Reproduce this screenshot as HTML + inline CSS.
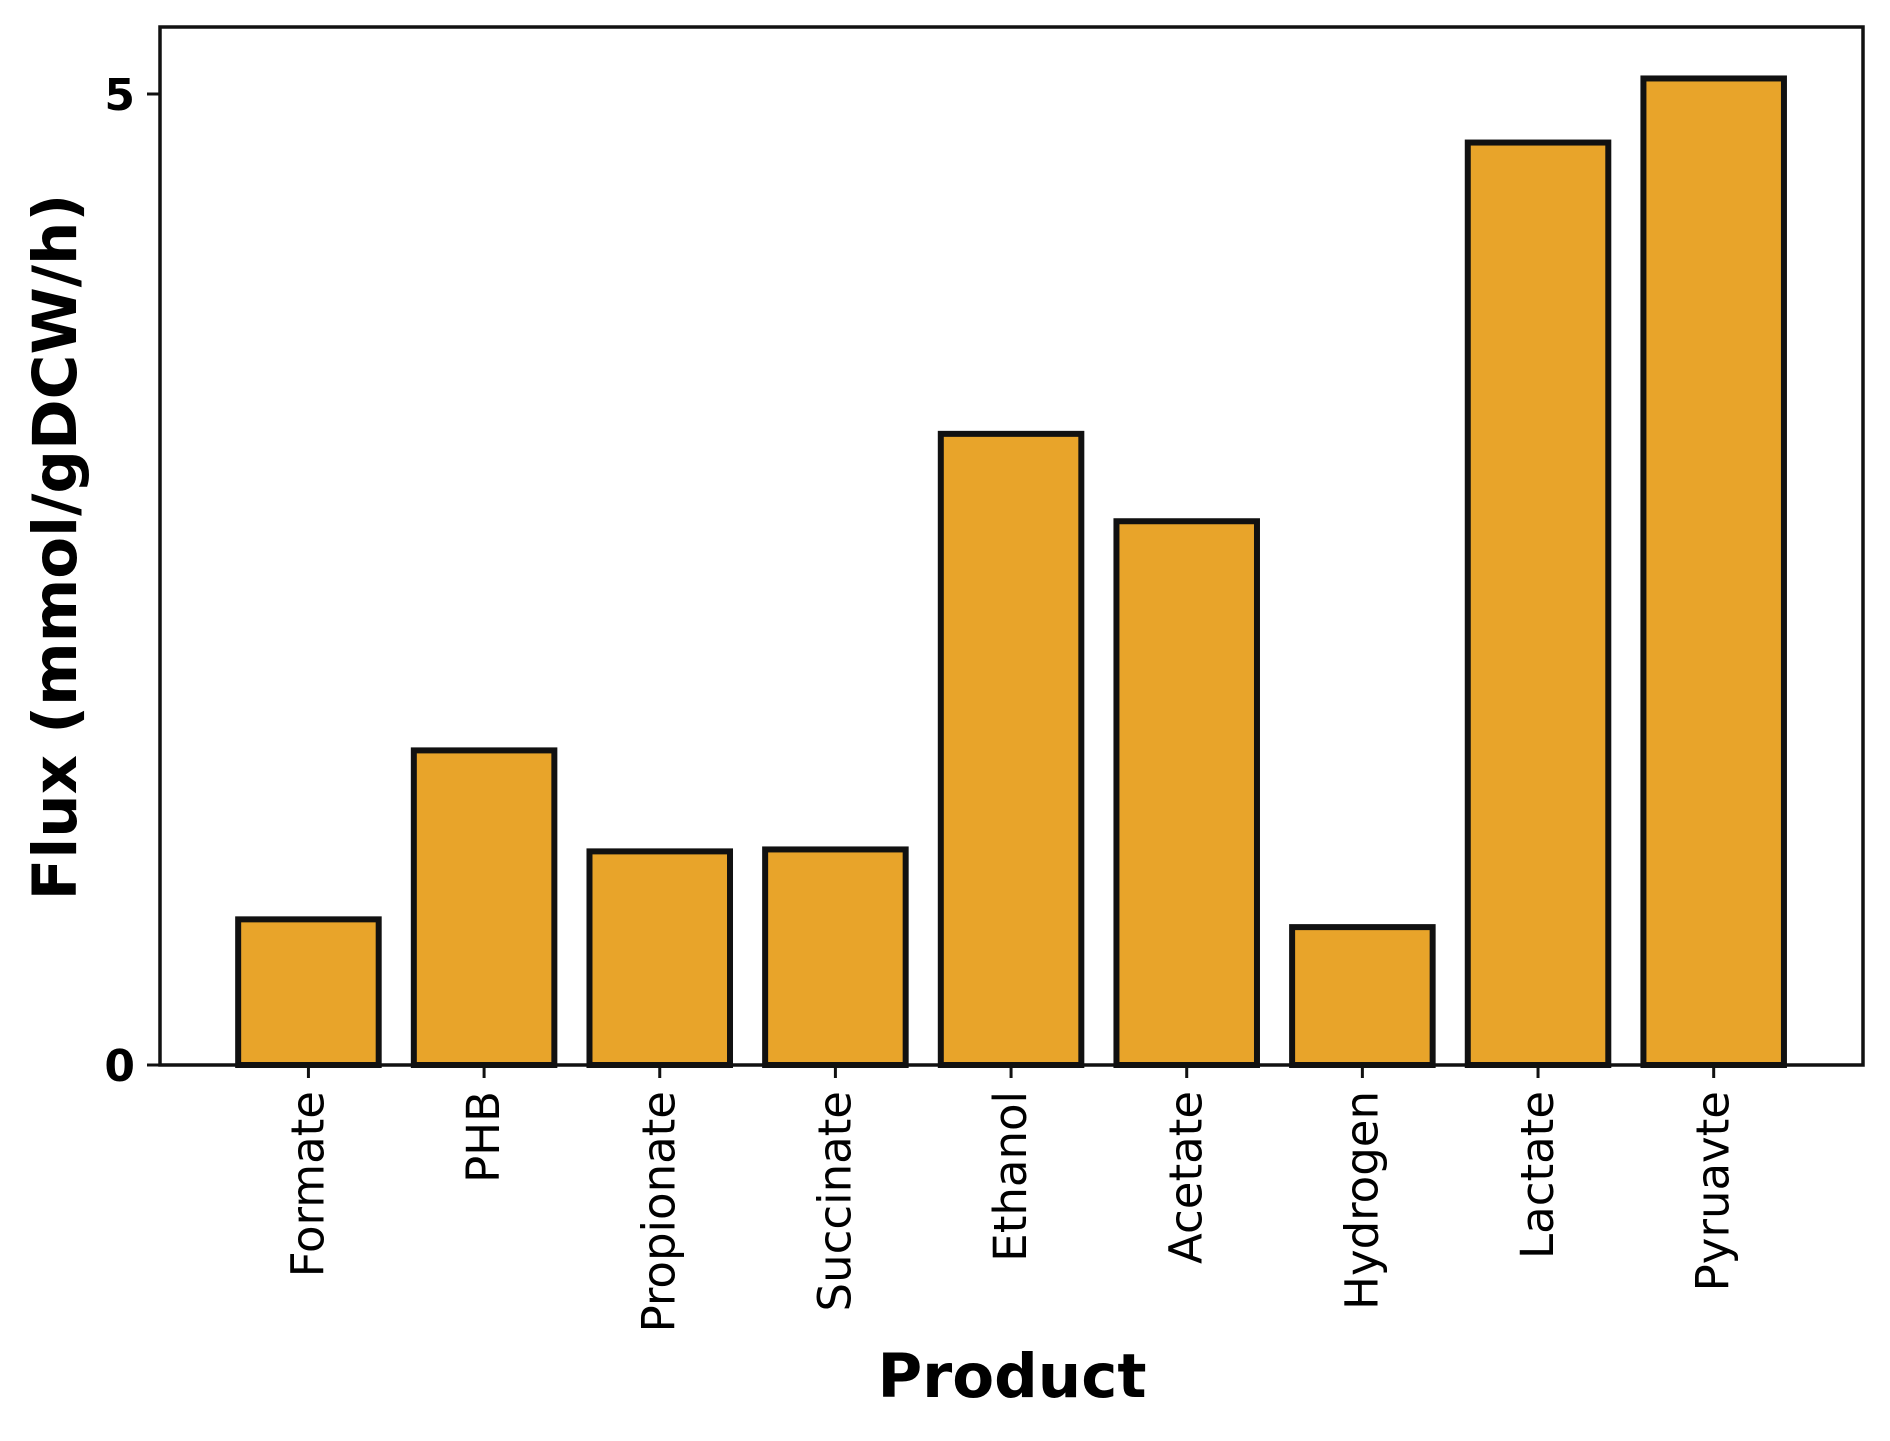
<!DOCTYPE html>
<html><head><meta charset="utf-8"><style>
html,body{margin:0;padding:0;background:#fff;}
svg{display:block;font-family:"DejaVu Sans","Liberation Sans",sans-serif;}
</style></head><body>
<svg id="chart" width="1890" height="1441" viewBox="0 0 1890 1441" xmlns="http://www.w3.org/2000/svg">
<g id="bars"></g>
<g id="axes"></g>
<text x="1012" y="1397" font-size="61" font-weight="bold" text-anchor="middle" fill="#000">Product</text>
<text transform="translate(76,547) rotate(-90)" font-size="61" font-weight="bold" text-anchor="middle" fill="#000">Flux (mmol/gDCW/h)</text>
</svg>
<script>
const categories = ["Formate","PHB","Propionate","Succinate","Ethanol","Acetate","Hydrogen","Lactate","Pyruvate"];
const labels = ["Formate","PHB","Propionate","Succinate","Ethanol","Acetate","Hydrogen","Lactate","Pyruavte"];
const values = [0.75, 1.62, 1.10, 1.11, 3.25, 2.80, 0.71, 4.75, 5.08];
const yTicks = [0, 5];
const yTickLabels = ["0", "5"];

const L = 160, R = 1863, T = 27, B = 1065;
const xMin = -0.845, xMax = 8.85;
const yMin = 0, yMax = (B - T) / ((B - 94) / 5);
const xs = i => L + (i - xMin) / (xMax - xMin) * (R - L);
const ys = v => B - (v - yMin) / (yMax - yMin) * (B - T);
const NS = "http://www.w3.org/2000/svg";
const barsG = document.getElementById("bars");
const axesG = document.getElementById("axes");
const bw = 0.8 * (xs(1) - xs(0));

values.forEach((v, i) => {
  const r = document.createElementNS(NS, "rect");
  r.setAttribute("x", xs(i) - bw / 2);
  r.setAttribute("y", ys(v));
  r.setAttribute("width", bw);
  r.setAttribute("height", ys(0) - ys(v));
  r.setAttribute("fill", "#e8a42a");
  r.setAttribute("stroke", "#111");
  r.setAttribute("stroke-width", "6");
  
  
  barsG.appendChild(r);

  const tk = document.createElementNS(NS, "line");
  tk.setAttribute("x1", xs(i)); tk.setAttribute("x2", xs(i));
  tk.setAttribute("y1", B); tk.setAttribute("y2", B + 13);
  tk.setAttribute("stroke", "#111"); tk.setAttribute("stroke-width", "3");
  
  
  axesG.appendChild(tk);

  const t = document.createElementNS(NS, "text");
  t.setAttribute("transform", "translate(" + (xs(i) + 15) + "," + (B + 26) + ") rotate(-90)");
  t.setAttribute("text-anchor", "end");
  t.setAttribute("font-size", "45");
  t.setAttribute("fill", "#000");
  t.textContent = labels[i];
  
  
  axesG.appendChild(t);
});

yTicks.forEach((v, i) => {
  const tk = document.createElementNS(NS, "line");
  tk.setAttribute("x1", L - 13); tk.setAttribute("x2", L);
  tk.setAttribute("y1", ys(v)); tk.setAttribute("y2", ys(v));
  tk.setAttribute("stroke", "#111"); tk.setAttribute("stroke-width", "3");
  
  
  axesG.appendChild(tk);
  const t = document.createElementNS(NS, "text");
  t.setAttribute("x", L - 25); t.setAttribute("y", ys(v) + 16);
  t.setAttribute("text-anchor", "end");
  t.setAttribute("font-size", "44");
  t.setAttribute("font-weight", "bold");
  t.setAttribute("fill", "#000");
  t.textContent = yTickLabels[i];
  
  
  axesG.appendChild(t);
});

const frame = document.createElementNS(NS, "rect");
frame.setAttribute("x", L); frame.setAttribute("y", T);
frame.setAttribute("width", R - L); frame.setAttribute("height", B - T);
frame.setAttribute("fill", "none"); frame.setAttribute("stroke", "#111"); frame.setAttribute("stroke-width", "3.5");


axesG.appendChild(frame);
</script>
</body></html>
